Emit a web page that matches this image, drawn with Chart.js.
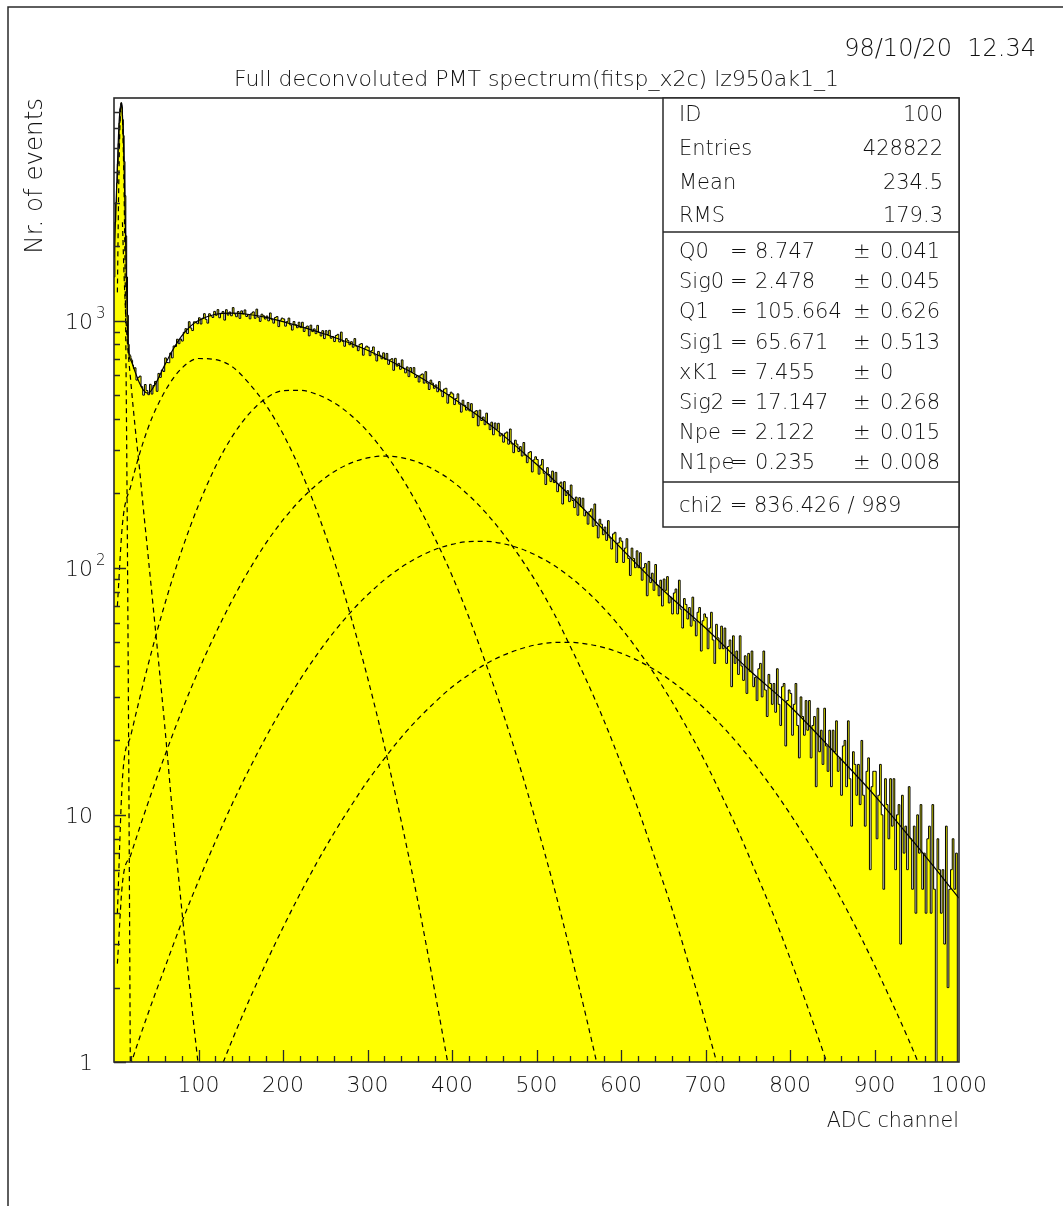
<!DOCTYPE html>
<html>
<head>
<meta charset="utf-8">
<title>Full deconvoluted PMT spectrum</title>
<script src="https://cdn.jsdelivr.net/npm/chart.js@4"></script>
<style>
  html, body { margin: 0; padding: 0; background: #fff; }
  canvas { display: block; }
</style>
</head>
<body>
<canvas id="spectrum" width="1063" height="1206"></canvas>
<script>
// pedestal region, one value per ADC channel (ch 0..23)
const pedestalCounts = [1500, 2500, 3000, 3600, 4300, 5200, 6300, 7200, 7600, 7300, 6500, 5600, 4400, 3200,
  2200, 1500, 1050, 800, 730, 720, 700, 690, 660, 640];

// rest of the spectrum, one value every 2 channels (ch 24..998)
const spectrumCounts = [
  644, 574, 589, 596, 540, 499, 551, 521,
  501, 552, 504, 546, 567, 517, 611, 589, 631, 622,
  706, 676, 675, 739, 706, 789, 785, 840, 806, 842,
  826, 896, 927, 886, 989, 933, 911, 988, 987, 971,
  1026, 968, 1022, 1066, 1011, 976, 1065, 1045, 1029, 1089,
  1050, 1107, 1026, 1070, 1088, 1004, 1106, 1052, 1083, 1045,
  1128, 1064, 1036, 1088, 1020, 1094, 1064, 1104, 1038, 1056,
  1016, 1071, 1084, 1021, 1112, 1031, 992, 1061, 1046, 1014,
  1043, 997, 1073, 1008, 976, 1029, 1038, 945, 1004, 1023,
  1015, 949, 990, 1023, 960, 915, 991, 962, 935, 984,
  936, 984, 903, 939, 950, 867, 958, 902, 925, 885,
  956, 895, 866, 910, 845, 910, 878, 913, 848, 862,
  822, 870, 879, 819, 898, 823, 787, 845, 829, 798,
  821, 780, 845, 787, 755, 801, 807, 724, 774, 788,
  780, 721, 755, 782, 726, 686, 750, 724, 700, 740,
  697, 736, 665, 694, 701, 629, 703, 654, 671, 635,
  693, 640, 614, 649, 593, 645, 617, 645, 588, 599,
  564, 602, 608, 558, 621, 558, 526, 574, 558, 532,
  549, 515, 566, 518, 492, 528, 532, 463, 502, 513,
  505, 457, 484, 505, 459, 426, 476, 454, 434, 466,
  431, 461, 405, 427, 432, 375, 434, 394, 407, 379,
  422, 382, 362, 388, 345, 385, 363, 384, 341, 348,
  322, 350, 354, 316, 364, 317, 292, 328, 316, 295,
  309, 283, 321, 285, 266, 292, 295, 244, 273, 281,
  274, 239, 260, 274, 241, 217, 254, 238, 223, 246,
  221, 243, 203, 218, 222, 181, 223, 196, 205, 185,
  216, 187, 175, 193, 163, 192, 177, 191, 162, 168,
  150, 169, 173, 147, 181, 148, 132, 157, 150, 136,
  146, 129, 155, 132, 119, 137, 139, 105, 126, 132,
  128, 105, 120, 131, 109, 93, 120, 109, 100, 117,
  100, 115, 89, 100, 104, 77, 106, 87, 95, 81,
  103, 85, 77, 89, 70, 90, 81, 92, 72, 76,
  65, 79, 82, 65, 89, 68, 57, 75, 71, 62,
  69, 58, 76, 61, 53, 66, 69, 46, 61, 65,
  63, 47, 57, 66, 51, 41, 59, 52, 47, 58,
  47, 57, 41, 48, 51, 33, 53, 41, 46, 37,
  53, 40, 35, 44, 31, 45, 38, 46, 33, 36,
  29, 39, 41, 30, 46, 32, 25, 37, 34, 28,
  34, 26, 39, 28, 23, 33, 34, 19, 29, 32,
  31, 21, 28, 34, 23, 17, 30, 25, 21, 29,
  22, 29, 17, 23, 25, 13, 27, 18, 22, 16,
  27, 19, 15, 22, 13, 22, 18, 24, 15, 17,
  12, 19, 20, 13, 24, 14, 9, 18, 16, 12,
  16, 11, 20, 12, 9, 15, 17, 6, 13, 15,
  15, 8, 12, 16, 10, 5, 14, 11, 8, 14,
  9, 14, 6, 10, 11, 3, 12, 7, 9, 6,
  13, 8, 5, 9, 4, 10, 7, 11, 5, 7,
  4, 8, 9, 4, 11, 5, 0, 8, 6, 4,
  6, 3, 9, 2, 5, 6, 8, 5, 7, 0
];

// total fit function
const fitChannels = [0, 2, 4, 6, 8, 9, 10, 12, 14, 16, 18, 20, 25, 30, 35, 40, 50, 60, 70, 80, 90, 100, 120, 140,
  160, 180, 200, 250, 300, 350, 400, 450, 500, 550, 600, 650, 700, 750, 800, 850, 900, 950, 1000];
const fitValues = [1800, 2700, 4200, 6300, 7500, 7450, 6800, 4200, 1900, 900, 715, 690, 620, 560, 522, 508, 562,
  660, 765, 865, 945, 1000, 1060, 1072, 1058, 1030, 990, 880, 758, 623, 488, 367, 262, 181, 120, 81, 57, 39,
  27.5, 18.3, 12, 7.5, 4.6];

// fit components (dashed)
const pedChannels = [4, 6, 8, 9, 10, 12, 14, 16, 18, 20];
const pedValues = [1300, 4240, 7310, 7590, 6640, 3180, 800, 107, 7.5, 0.3];

const bgChannels = [10, 12, 15, 20, 25, 30, 35, 40, 50, 60, 70, 80, 90, 100, 110];
const bgValues = [2500, 1500, 900, 560, 370, 255, 170, 115, 52, 23, 9.5, 4.2, 1.95, 0.95, 0.46];

const compChannels = [4, 10, 20, 40, 60, 80, 100, 120, 140, 160, 180, 200, 220, 240, 260, 280, 300, 320, 340, 360,
  380, 400, 420, 440, 460, 480, 500, 520, 540, 560, 580, 600, 620, 640, 660, 680, 700, 720, 740, 760, 780, 800,
  820, 840, 860, 880, 900, 920, 940, 960, 980, 1000];
const pe1 = [70, 150, 215, 365, 515, 640, 702, 695, 650, 556, 454, 348, 251, 170, 108, 64, 36, 19, 9.4, 4.4, 1.9,
  0.79, 0.3];
const pe2 = [4, 14, 21, 40, 71, 117, 179, 256, 340, 420, 485, 520, 522, 503, 466, 415, 356, 293, 233, 178, 131, 93,
  63, 41, 26, 15.8, 9.2, 5.2, 2.8, 1.46, 0.73, 0.35];
const pe3 = [2.5, 5.3, 6.9, 11.1, 17.3, 26.2, 38.3, 54, 74, 98, 126, 156, 187, 217, 244, 265, 278, 283, 279, 267,
  248, 224, 196, 167, 138, 111, 87, 66, 48, 34.5, 24, 16.1, 10.6, 6.7, 4.2, 2.5, 1.45, 0.82, 0.45];
const pe4 = [0.5, 0.75, 0.98, 1.56, 2.4, 3.66, 5.4, 7.8, 11.1, 15.3, 20.7, 27.3, 35.2, 44.4, 54.8, 66, 77.6, 89.3,
  100.4, 110.3, 118.4, 124.3, 127.5, 127.8, 125.1, 119.8, 112, 102.5, 91.6, 80, 68.3, 57, 46.4, 37, 28.8, 21.9,
  16.3, 11.8, 8.4, 5.8, 3.97, 2.63, 1.7, 1.08, 0.67, 0.4];
const pe5 = [null, null, null, null, null, 0.36, 0.56, 0.83, 1.23, 1.78, 2.52, 3.5, 4.78, 6.4, 8.4, 10.8, 13.7,
  16.9, 20.6, 24.5, 28.6, 32.9, 36.9, 40.8, 44.1, 46.8, 48.8, 49.8, 49.9, 49.1, 47.5, 45.1, 42.1, 38.6, 34.7,
  30.7, 26.7, 22.8, 19.1, 15.7, 12.7, 10.1, 7.9, 6.1, 4.6, 3.4, 2.47, 1.76, 1.24, 0.85, 0.58, 0.39];

// axis labels
const xTicks = [100, 200, 300, 400, 500, 600, 700, 800, 900, 1000];
const yDecades = [1, 10, 100, 1000];
const yDecadeBase = ['1', '10', '10', '10'];
const yDecadeExp = ['', '', '2', '3'];

// statistics box
const statNames = ['ID', 'Entries', 'Mean', 'RMS'];
const statValues = ['100', '428822', '234.5', '179.3'];
const parNames = ['Q0', 'Sig0', 'Q1', 'Sig1', 'xK1', 'Sig2', 'Npe', 'N1pe'];
const parValues = ['8.747', '2.478', '105.664', '65.671', '7.455', '17.147', '2.122', '0.235'];
const parErrors = ['0.041', '0.045', '0.626', '0.513', '0', '0.268', '0.015', '0.008'];
const chi2Text = 'chi2 = 836.426 / 989';

const titleText = 'Full deconvoluted PMT spectrum(fitsp_x2c) lz950ak1_1';
const dateText = '98/10/20  12.34';

// log axis can't show 0, so empty bins are sent below the axis
const EMPTY_BIN = 0.1;
function binValue(c) {
  return c > 0 ? c : EMPTY_BIN;
}

// build histogram points (step line, value holds until next bin)
const histPoints = [];
pedestalCounts.forEach((c, i) => histPoints.push({ x: i, y: binValue(c) }));
spectrumCounts.forEach((c, i) => histPoints.push({ x: 24 + i * 2, y: binValue(c) }));
histPoints.push({ x: 1000, y: binValue(spectrumCounts[spectrumCounts.length - 1]) });

function toPoints(xs, ys) {
  const pts = [];
  xs.forEach((x, i) => {
    if (ys[i] !== null && ys[i] !== undefined) pts.push({ x: x, y: ys[i] });
  });
  return pts;
}

function dashed(pts) {
  return {
    data: pts,
    borderColor: '#000',
    borderWidth: 1.2,
    borderDash: [5, 4],
    cubicInterpolationMode: 'monotone',
    fill: false,
    pointRadius: 0,
    order: 2
  };
}

const FONT = '"DejaVu Sans", sans-serif';
function txt(ctx, s, x, y, size, align) {
  ctx.font = '200 ' + size + 'px ' + FONT;
  ctx.textAlign = align || 'left';
  ctx.textBaseline = 'alphabetic';
  ctx.fillText(s, x, y);
}

// frame, ticks, labels and the stats box, PAW style
const pawDecor = {
  id: 'pawDecor',
  beforeDraw(chart) {
    const ctx = chart.ctx;
    ctx.save();
    ctx.fillStyle = '#fff';
    ctx.fillRect(0, 0, chart.width, chart.height);
    ctx.restore();
  },
  afterDraw(chart) {
    const { ctx, chartArea: a, scales } = chart;
    const xs = scales.x, ys = scales.y;
    ctx.save();
    ctx.strokeStyle = '#2a2a2a';
    ctx.fillStyle = '#111';

    // page border
    ctx.lineWidth = 1.5;
    ctx.beginPath();
    ctx.moveTo(8, chart.height);
    ctx.lineTo(8, 7);
    ctx.lineTo(chart.width, 7);
    ctx.stroke();

    // plot frame
    ctx.lineWidth = 1.6;
    ctx.strokeRect(a.left, a.top, a.right - a.left, a.bottom - a.top);

    // y ticks
    ctx.lineWidth = 1.3;
    ctx.beginPath();
    yDecades.forEach(d => {
      for (let m = 1; m <= 9; m++) {
        const v = d * m;
        if (v > ys.max) break;
        const py = Math.round(ys.getPixelForValue(v)) + 0.5;
        const len = m === 1 ? 12 : 6;
        ctx.moveTo(a.left, py);
        ctx.lineTo(a.left + len, py);
      }
    });
    // x ticks
    for (let v = 20; v < 1000; v += 20) {
      const px = Math.round(xs.getPixelForValue(v)) + 0.5;
      const len = v % 100 === 0 ? 12 : 6;
      ctx.moveTo(px, a.bottom);
      ctx.lineTo(px, a.bottom - len);
    }
    ctx.stroke();

    // tick labels
    xTicks.forEach(v => txt(ctx, String(v), xs.getPixelForValue(v), a.bottom + 30, 22, 'center'));
    yDecades.forEach((d, i) => {
      const py = ys.getPixelForValue(d);
      txt(ctx, yDecadeBase[i], 93, py + 8, 22, 'right');
      if (yDecadeExp[i]) txt(ctx, yDecadeExp[i], 96, py - 3, 15, 'left');
    });

    // axis titles
    txt(ctx, 'ADC channel', a.right, 1127, 20.6, 'right');
    ctx.save();
    ctx.translate(42, a.top);
    ctx.rotate(-Math.PI / 2);
    txt(ctx, 'Nr. of events', 0, 0, 24.5, 'right');
    ctx.restore();

    // title and date
    txt(ctx, titleText, (a.left + a.right) / 2, 86, 22, 'center');
    txt(ctx, dateText, 1036, 56, 24, 'right');

    // stats box
    const bx = 663, bTop = a.top, bRight = a.right, bBottom = 527;
    ctx.fillStyle = '#fff';
    ctx.fillRect(bx, bTop, bRight - bx, bBottom - bTop);
    ctx.fillStyle = '#111';
    ctx.lineWidth = 1.5;
    ctx.strokeRect(bx, bTop, bRight - bx, bBottom - bTop);
    ctx.beginPath();
    ctx.moveTo(bx, 232); ctx.lineTo(bRight, 232);
    ctx.moveTo(bx, 482); ctx.lineTo(bRight, 482);
    ctx.stroke();

    const statY = [121, 155, 189, 222];
    statNames.forEach((n, i) => {
      txt(ctx, n, 679, statY[i], 21, 'left');
      txt(ctx, statValues[i], 943, statY[i], 21, 'right');
    });
    parNames.forEach((n, i) => {
      const py = 258 + i * 30.2;
      txt(ctx, n, 679, py, 21, 'left');
      txt(ctx, '=', 730, py, 21, 'left');
      txt(ctx, parValues[i], 755, py, 21, 'left');
      txt(ctx, '\u00b1', 853, py, 21, 'left');
      txt(ctx, parErrors[i], 880, py, 21, 'left');
    });
    txt(ctx, chi2Text, 679, 512, 21, 'left');

    ctx.restore();
  }
};

new Chart(document.getElementById('spectrum').getContext('2d'), {
  type: 'line',
  data: {
    datasets: [
      {
        data: histPoints,
        stepped: true,
        borderColor: '#000',
        borderWidth: 1,
        backgroundColor: '#ffff00',
        fill: 'start',
        pointRadius: 0,
        order: 3
      },
      {
        data: toPoints(fitChannels, fitValues),
        borderColor: '#000',
        borderWidth: 1.2,
        cubicInterpolationMode: 'monotone',
        fill: false,
        pointRadius: 0,
        order: 1
      },
      dashed(toPoints(pedChannels, pedValues)),
      dashed(toPoints(bgChannels, bgValues)),
      dashed(toPoints(compChannels, pe1)),
      dashed(toPoints(compChannels, pe2)),
      dashed(toPoints(compChannels, pe3)),
      dashed(toPoints(compChannels, pe4)),
      dashed(toPoints(compChannels, pe5))
    ]
  },
  options: {
    responsive: false,
    animation: false,
    layout: { padding: { left: 114, top: 98, right: 104, bottom: 144 } },
    scales: {
      x: { type: 'linear', min: 0, max: 1000, display: false },
      y: { type: 'logarithmic', min: 1, max: 7950, display: false }
    },
    plugins: {
      legend: { display: false },
      tooltip: { enabled: false }
    }
  },
  plugins: [pawDecor]
});
</script>
</body>
</html>
